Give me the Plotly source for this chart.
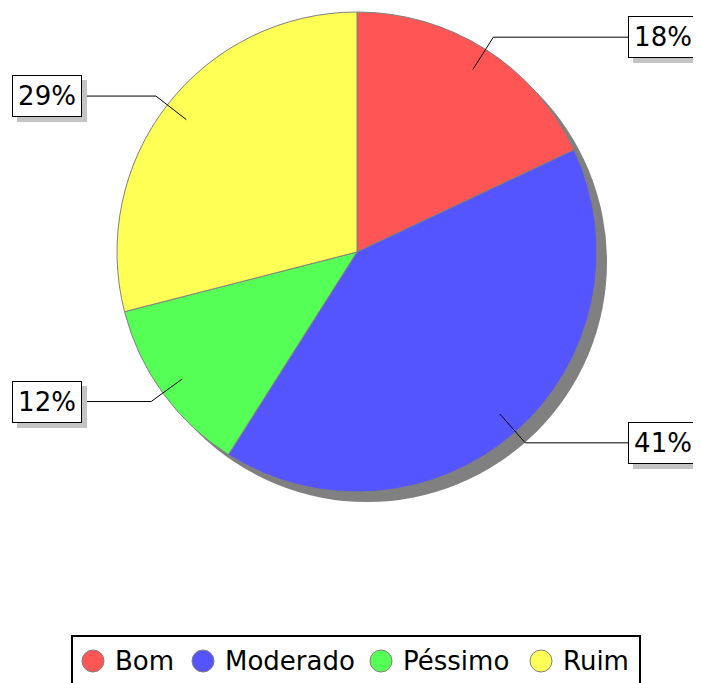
import math
import plotly.graph_objects as go

categories = ["Bom", "Moderado", "Péssimo", "Ruim"]
values = [18, 41, 12, 29]
pct_labels = ["18%", "41%", "12%", "29%"]
colors = ["#FF5555", "#5555FF", "#55FF55", "#FFFF55"]

W, H = 701, 683
OFF = 8  # page body margin
cx, cy, r = 357 - OFF, 252 - OFF, 240
shadow = 10
FONT = "DejaVu Sans"
FS = 26


def px(x):
    return x / W


def py(y):
    return 1 - y / H


fig = go.Figure()

# shadow pie
fig.add_trace(go.Pie(
    values=[1], labels=["shadow"],
    marker=dict(colors=["#808080"], line=dict(width=0)),
    domain=dict(x=[px(cx - r + shadow), px(cx + r + shadow)],
                y=[py(cy + r + shadow), py(cy - r + shadow)]),
    textinfo="none", hoverinfo="skip", showlegend=False, sort=False,
))

fig.add_trace(go.Pie(
    labels=categories, values=values,
    marker=dict(colors=colors, line=dict(color="#808080", width=1)),
    domain=dict(x=[px(cx - r), px(cx + r)], y=[py(cy + r), py(cy - r)]),
    textinfo="none", direction="clockwise", rotation=0, sort=False,
    showlegend=False,
))

shapes = []
annotations = []
total = sum(values)
cum = 0
for v, lab in zip(values, pct_labels):
    mid = (cum + v / 2) / total
    cum += v
    th = 2 * math.pi * mid
    s, c = math.sin(th), math.cos(th)
    x1, y1 = cx + 0.9 * r * s, cy - 0.9 * r * c
    x2, y2 = cx + 1.06 * r * s, cy - 1.06 * r * c
    right = s > 0
    x3 = W - 60 if right else 40
    shapes.append(dict(
        type="path", xref="paper", yref="paper",
        path=f"M {px(x1)},{py(y1)} L {px(x2)},{py(y2)} L {px(x3)},{py(y2)}",
        line=dict(color="black", width=1), layer="above",
    ))
    bx = px(698 - OFF) if right else px(12 - OFF)
    xa = "right" if right else "left"
    for shadow_box in (True, False):
        annotations.append(dict(
            x=bx, y=py(y2), xref="paper", yref="paper",
            xanchor=xa, yanchor="middle", showarrow=False,
            text=" " if shadow_box else lab,
            width=62, height=34, align="center", valign="middle",
            font=dict(family=FONT, size=FS, color="black"),
            bgcolor="#C4C4C4" if shadow_box else "white",
            bordercolor="#C4C4C4" if shadow_box else "black",
            borderwidth=1, borderpad=3,
            xshift=5 if shadow_box else 0, yshift=-5 if shadow_box else 0,
        ))

# manual legend
leg_circle_x = [93 - OFF, 203 - OFF, 381 - OFF, 541 - OFF]
leg_y = 661 - OFF
shapes.append(dict(type="rect", xref="paper", yref="paper",
                   x0=px(72 - OFF), x1=px(640 - OFF),
                   y0=py(700), y1=py(636 - OFF),
                   line=dict(color="black", width=2), fillcolor="white",
                   layer="above"))
for cxl, name, col in zip(leg_circle_x, categories, colors):
    shapes.append(dict(type="circle", xref="paper", yref="paper",
                       x0=px(cxl - 11), x1=px(cxl + 11),
                       y0=py(leg_y + 11), y1=py(leg_y - 11),
                       fillcolor=col, line=dict(color="#808080", width=1),
                       layer="above"))
    annotations.append(dict(x=px(cxl + 20), y=py(leg_y), xref="paper",
                            yref="paper", xanchor="left", yanchor="middle",
                            showarrow=False, text=name,
                            font=dict(family=FONT, size=FS, color="black")))

fig.update_layout(
    width=W, height=H,
    margin=dict(l=0, r=0, t=0, b=0),
    paper_bgcolor="white", plot_bgcolor="white",
    shapes=shapes, annotations=annotations,
    font=dict(family=FONT),
)

fig.write_html("out.html")
